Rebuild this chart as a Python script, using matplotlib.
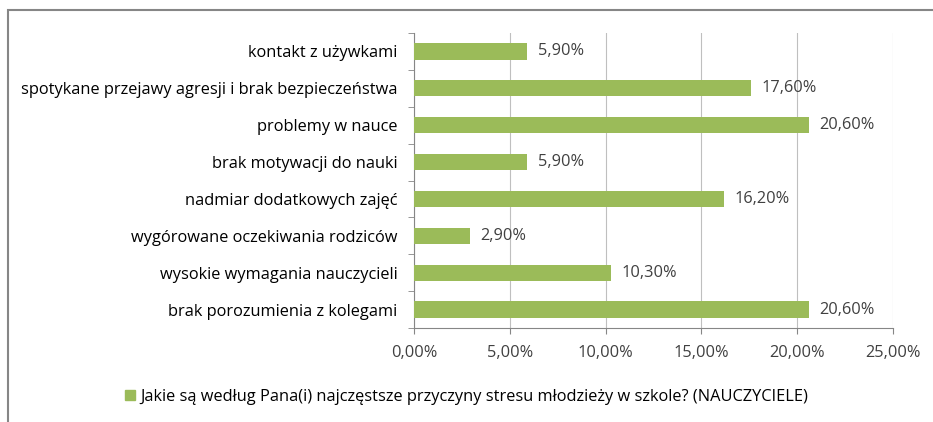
import matplotlib
matplotlib.use("Agg")
from matplotlib import pyplot as plt
from matplotlib.patches import Rectangle
from matplotlib.ticker import FuncFormatter, MultipleLocator

plt.rcParams['font.family'] = ['Open Sans', 'DejaVu Sans']

categories = [
    "brak porozumienia z kolegami",
    "wysokie wymagania nauczycieli",
    "wygórowane oczekiwania rodziców",
    "nadmiar dodatkowych zajęć",
    "brak motywacji do nauki",
    "problemy w nauce",
    "spotykane przejawy agresji i brak bezpieczeństwa",
    "kontakt z używkami",
]
values = [20.6, 10.3, 2.9, 16.2, 5.9, 20.6, 17.6, 5.9]
series_name = "Jakie są według Pana(i) najczęstsze przyczyny stresu młodzieży w szkole? (NAUCZYCIELE)"

green = "#9BBB59"
txt = "#404040"
fs = 11.8

fig = plt.figure(figsize=(9.33, 4.22), dpi=100)
ax = fig.add_axes([414 / 933, 1 - 328 / 422, (893 - 414) / 933, (328 - 33) / 422])

ypos = range(len(categories))
ax.barh(ypos, values, height=0.44, color=green, zorder=3, label=series_name)
for y, v in zip(ypos, values):
    ax.text(v + 0.55, y, ("%.2f%%" % v).replace(".", ","), va="center", ha="left",
            fontsize=fs, color=txt)

ax.set_xlim(0, 25)
ax.set_ylim(-0.5, len(categories) - 0.5)
ax.xaxis.set_major_locator(MultipleLocator(5))
ax.xaxis.set_major_formatter(FuncFormatter(lambda x, p: ("%.2f%%" % x).replace(".", ",")))
ax.set_yticks(list(ypos))
ax.set_yticklabels(categories)
ax.grid(axis="x", color="#BFBFBF", linewidth=0.8, zorder=0)
for s in ["top", "right"]:
    ax.spines[s].set_visible(False)
ax.spines["left"].set_color("#868686")
ax.spines["bottom"].set_color("#868686")
ax.tick_params(axis="x", colors="#868686", labelcolor=txt, labelsize=fs, length=4, pad=8)
ax.tick_params(axis="y", length=0, labelsize=fs, labelcolor="black", pad=12)
# minor ticks on y between categories
ax.set_yticks([i + 0.5 for i in range(-1, len(categories))], minor=True)
ax.tick_params(axis="y", which="minor", length=4, color="#868686")

handle = Rectangle((0, 0), 1, 1, color=green)
fig.legend([handle], [series_name], loc="center", bbox_to_anchor=(0.5, 1 - 397 / 422),
           frameon=False, fontsize=fs, handlelength=0.6, handleheight=0.6, handletextpad=0.3,
           labelcolor="black")

# chart frame
fig.patches.append(Rectangle((8 / 933, -0.1), 2, 1.1 - 10 / 422, transform=fig.transFigure,
                             fill=False, edgecolor="#868686", linewidth=1.5))

fig.savefig("out.png", dpi=100)
